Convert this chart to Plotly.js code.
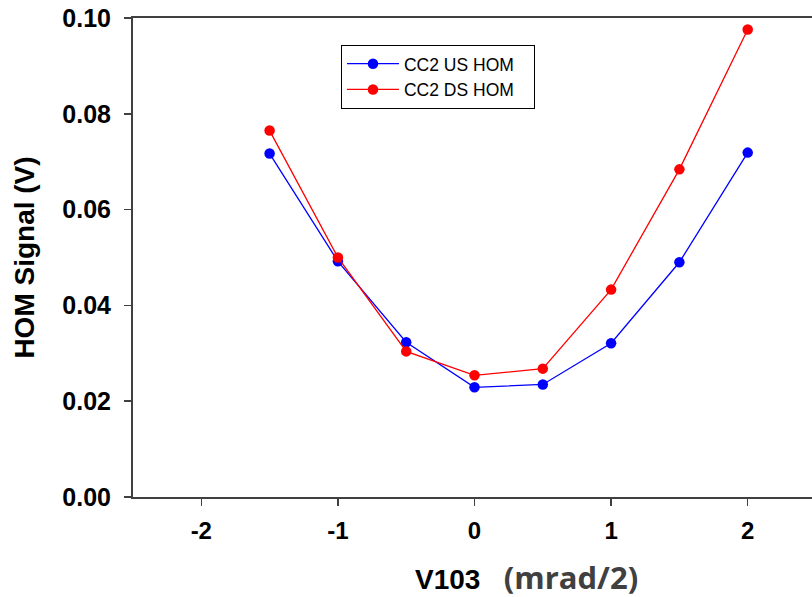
<!DOCTYPE html>
<html>
<head>
<meta charset="utf-8">
<script src="https://cdn.plot.ly/plotly-3.0.1.min.js"></script>
<style>
html, body { margin: 0; padding: 0; overflow: hidden; background: #fff; }
#chart { width: 816px; height: 597px; }
</style>
</head>
<body>
<div id="chart"></div>
<script>
const xValues = [-1.5, -1, -0.5, 0, 0.5, 1, 1.5, 2];
const usHom = [0.0717, 0.0492, 0.0323, 0.0229, 0.0235, 0.0321, 0.0490, 0.0719];
const dsHom = [0.0765, 0.0500, 0.0304, 0.0254, 0.0268, 0.0433, 0.0684, 0.0976];
const seriesNames = ['CC2 US HOM', 'CC2 DS HOM'];
const xTicks = [-2, -1, 0, 1, 2];
const yTicks = [0, 0.02, 0.04, 0.06, 0.08, 0.10];
const yTickText = ['0.00', '0.02', '0.04', '0.06', '0.08', '0.10'];

const pad = '&nbsp;&nbsp;&nbsp;';
const traces = [
  { x: xValues, y: usHom, name: seriesNames[0] + pad, type: 'scatter', mode: 'lines+markers',
    line: { color: '#0000ff', width: 1.3 }, marker: { color: '#0000ff', size: 10.5 } },
  { x: xValues, y: dsHom, name: seriesNames[1] + pad, type: 'scatter', mode: 'lines+markers',
    line: { color: '#ff0000', width: 1.3 }, marker: { color: '#ff0000', size: 10.5 } }
];

const layout = {
  width: 816, height: 597,
  margin: { l: 133, r: 0, t: 18, b: 100 },
  paper_bgcolor: '#ffffff', plot_bgcolor: '#ffffff',
  font: { family: 'Arial, "Liberation Sans", sans-serif', color: '#000' },
  showlegend: true,
  legend: {
    x: 0.3045, y: 0.944, xanchor: 'left', yanchor: 'top',
    bordercolor: '#000', borderwidth: 1, bgcolor: '#fff',
    font: { family: 'Arial, "Liberation Sans", sans-serif', size: 17.5, color: '#000' },
    itemwidth: 52,
    tracegroupgap: 0
  },
  xaxis: {
    range: [-2.5, 2.5], tickvals: xTicks, ticktext: xTicks.map(String),
    showgrid: false, zeroline: false,
    showline: true, linecolor: '#404040', linewidth: 2, mirror: true,
    ticks: 'outside', ticklen: 7, tickwidth: 1.5, tickcolor: '#404040',
    tickfont: { family: 'Arial, "Liberation Sans", sans-serif', size: 24, color: '#000', weight: 'bold' },
    ticklabelstandoff: 4
  },
  yaxis: {
    range: [0, 0.1], tickvals: yTicks, ticktext: yTickText,
    showgrid: false, zeroline: false,
    showline: true, linecolor: '#404040', linewidth: 2,
    ticks: 'outside', ticklen: 7, tickwidth: 1.5, tickcolor: '#404040',
    tickfont: { family: 'Arial, "Liberation Sans", sans-serif', size: 25, color: '#000', weight: 'bold' },
    ticklabelstandoff: 8,
    title: { text: '<b>HOM Signal (V)</b>', font: { family: 'Arial, "Liberation Sans", sans-serif', size: 28, color: '#000' }, standoff: 20 }
  },
  annotations: [{
    xref: 'paper', yref: 'paper', x: 0.576, y: -0.167, xanchor: 'center', yanchor: 'middle',
    showarrow: false,
    text: '<b>V103</b>&nbsp;&nbsp;&nbsp;<span style="font-family:\'Open Sans\', sans-serif;color:#404040;font-size:31px"><b>(mrad/2)</b></span>',
    font: { family: 'Arial, "Liberation Sans", sans-serif', size: 28, color: '#000' }
  }]
};

Plotly.newPlot('chart', traces, layout, { displayModeBar: false, staticPlot: true });
</script>
</body>
</html>
